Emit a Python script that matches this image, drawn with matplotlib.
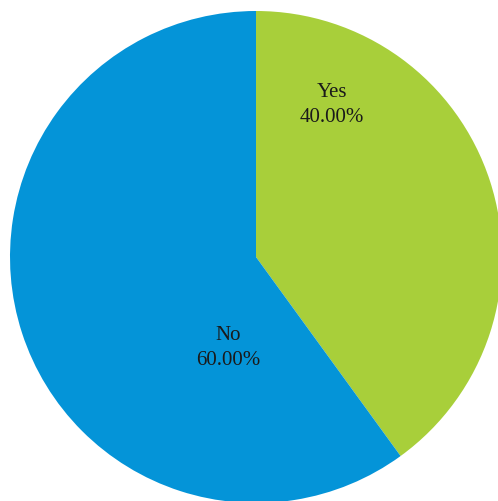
import matplotlib
matplotlib.use("Agg")
import matplotlib.pyplot as plt

labels = ["Yes", "No"]
values = [40.0, 60.0]
colors = ["#A8CF3A", "#0494D8"]

W, H = 498, 501
cx, cy, r = 256, 257, 246

fig = plt.figure(figsize=(W / 100, H / 100), dpi=100)
ax = fig.add_axes([0, 0, 1, 1])
ax.pie(values, colors=colors, startangle=90, counterclock=False,
       radius=1.0, wedgeprops=dict(linewidth=0))
ax.set_xlim(-cx / r, (W - cx) / r)
ax.set_ylim(-(H - cy) / r, cy / r)
ax.set_aspect("auto")
ax.axis("off")

label_pos = [(0.309, 0.618), (-0.114, -0.370)]
for lab, v, (x, y) in zip(labels, values, label_pos):
    ax.text(x, y, f"{lab}\n{v:.2f}%", ha="center", va="center",
            fontsize=15, family="Liberation Serif", color="#1a1a1a",
            linespacing=1.45)

fig.savefig("out.png", dpi=100)
